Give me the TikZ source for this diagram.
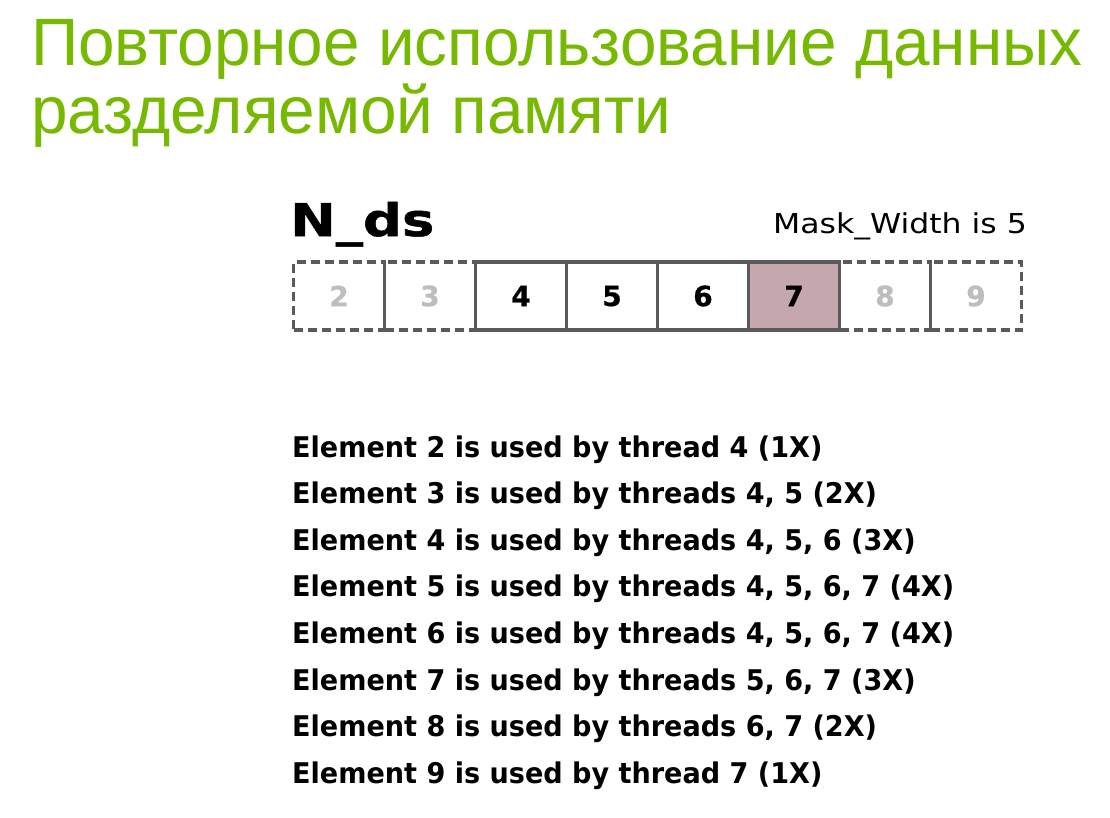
\documentclass[tikz,border=0pt]{standalone}
\usepackage{fontspec}
\setmainfont{Liberation Sans}
\newfontfamily\labelfont{DejaVu Sans}[FakeStretch=1.15]
\newfontfamily\usagefont{DejaVu Sans Bold}[FakeStretch=0.95]
\newfontfamily\digitfont{DejaVu Sans Bold}[FakeBold=0.6]
\newfontfamily\heavyfont{DejaVu Sans Bold}[FakeBold=1.2, FakeStretch=1.21]
\definecolor{nvgreen}{HTML}{76B900}
\definecolor{cellgray}{HTML}{5A5A5A}
\definecolor{ghost}{HTML}{BDBDBD}
\definecolor{hilite}{HTML}{C4A8AD}

\tikzset{
  heading/.style = {anchor = base west, inner sep = 0pt, text = nvgreen, xscale = 0.98,
                    font = \fontsize{67}{70}\selectfont},
  cell/.style = {draw = cellgray, line width = 3.5pt, minimum width = 91pt, minimum height = 68pt,
                 inner sep = 0pt, font = \digitfont\fontsize{28}{30}\selectfont},
  halo/.style = {cell, dashed, dash pattern = on 9pt off 5pt, text = ghost},
  usage/.style = {anchor = base west, inner sep = 0pt, font = \usagefont\fontsize{28.5}{31}\selectfont}
}

\begin{document}
\begin{tikzpicture}[x = 1pt, y = -1pt]
\useasboundingbox (0,0) rectangle (1110,817);
% title
\node [heading] (title1) at (31,65) {Повторное использование данных};
\node [heading] (title2) at (31,133) {разделяемой памяти};
% array N_ds
\node [anchor = base west, inner sep = 0pt, font = \heavyfont\fontsize{45}{48}\selectfont] (nds) at (290,236) {N\_ds};
\node [anchor = base east, inner sep = 0pt, font = \labelfont\fontsize{27.4}{30}\selectfont] (mask) at (1027,233) {Mask\_Width is 5};
\node [halo] (c2) at (339,296) {2};
\node [halo] (c3) at (430,296) {3};
\node [halo] (c8) at (885,296) {8};
\node [halo] (c9) at (976,296) {9};
\node [cell] (c4) at (521,296) {4};
\node [cell] (c5) at (612,296) {5};
\node [cell] (c6) at (703,296) {6};
\node [cell, fill = hilite] (c7) at (794,296) {7};
% who reads what
\foreach \txt [count = \i] in {Element 2 is used by thread 4 (1X),
                               {Element 3 is used by threads 4, 5 (2X)},
                               {Element 4 is used by threads 4, 5, 6 (3X)},
                               {Element 5 is used by threads 4, 5, 6, 7 (4X)},
                               {Element 6 is used by threads 4, 5, 6, 7 (4X)},
                               {Element 7 is used by threads 5, 6, 7 (3X)},
                               {Element 8 is used by threads 6, 7 (2X)},
                               Element 9 is used by thread 7 (1X)}
  \node [usage] (use\i) at (292, {457 + (\i-1)*46.6}) {\txt};
\end{tikzpicture}
\end{document}
